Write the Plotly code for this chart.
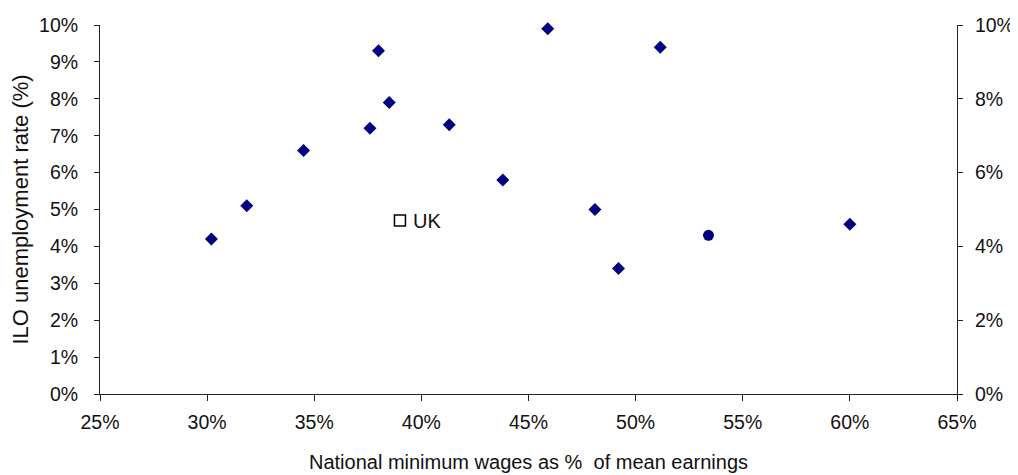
import plotly.graph_objects as go

# Data (x: min wage as share of mean earnings, y: ILO unemployment rate)
diamond_x = [0.302, 0.3185, 0.345, 0.376, 0.380, 0.385, 0.413, 0.459, 0.5115, 0.438, 0.481, 0.492, 0.600]
diamond_y = [0.042, 0.051, 0.066, 0.072, 0.093, 0.079, 0.073, 0.099, 0.094, 0.058, 0.050, 0.034, 0.046]
circle_x = [0.534]
circle_y = [0.043]
uk_x = [0.390]
uk_y = [0.047]
uk_label = ["UK"]

x_title = "National minimum wages as %  of mean earnings"
y_title = "ILO unemployment rate (%)"

FONT = "Liberation Sans Narrow, Arial Narrow, Liberation Sans, Arial, sans-serif"
NAVY = "#000080"
TXT = "#111111"

fig = go.Figure()
fig.add_trace(go.Scatter(
    x=diamond_x, y=diamond_y, mode="markers", cliponaxis=False,
    marker=dict(symbol="diamond", size=10, color=NAVY, line=dict(width=0)),
    showlegend=False, hoverinfo="x+y"))
fig.add_trace(go.Scatter(
    x=circle_x, y=circle_y, mode="markers", cliponaxis=False,
    marker=dict(symbol="circle", size=11, color=NAVY, line=dict(width=0)),
    showlegend=False, hoverinfo="x+y"))
fig.add_trace(go.Scatter(
    x=uk_x, y=uk_y, mode="markers", cliponaxis=False,
    marker=dict(symbol="square", size=11, color="white", line=dict(width=1.5, color="black")),
    showlegend=False, hoverinfo="x+y"))
for xv, yv, lab in zip(uk_x, uk_y, uk_label):
    fig.add_annotation(x=xv, y=yv, text=lab, showarrow=False, xanchor="left",
                       yanchor="middle", xshift=11,
                       font=dict(family=FONT, size=20, color=TXT))
# invisible trace on secondary axis to show right-hand scale
fig.add_trace(go.Scatter(x=[0.25], y=[0], yaxis="y2", mode="markers",
                         marker=dict(opacity=0), showlegend=False, hoverinfo="skip"))

axis_common = dict(showgrid=False, zeroline=False, showline=True, linecolor="#222222",
                   linewidth=1, ticks="outside", tickcolor="#222222",
                   automargin=False,
                   tickfont=dict(family=FONT, size=19.5, color=TXT))

fig.update_layout(
    width=1010, height=467,
    margin=dict(l=92, r=60.5, t=16.5, b=80.5),
    paper_bgcolor="white", plot_bgcolor="white",
    font=dict(family=FONT, size=19.5, color=TXT),
    xaxis=dict(range=[0.25, 0.65], dtick=0.05, tick0=0.25, tickformat=".0%",
               ticklen=6, ticklabelstandoff=5,
               title=dict(text=x_title, font=dict(family=FONT, size=20, color=TXT), standoff=22),
               **axis_common),
    yaxis=dict(range=[0, 0.1], dtick=0.01, tick0=0, tickformat=".0%",
               ticklen=5, ticklabelstandoff=12,
               title=dict(text=y_title, font=dict(family=FONT, size=22, color=TXT), standoff=7),
               **axis_common),
    yaxis2=dict(range=[0, 0.1], dtick=0.02, tick0=0, tickformat=".0%",
                ticklen=5, ticklabelstandoff=8,
                overlaying="y", side="right", **axis_common),
)

fig.write_html("out.html")
